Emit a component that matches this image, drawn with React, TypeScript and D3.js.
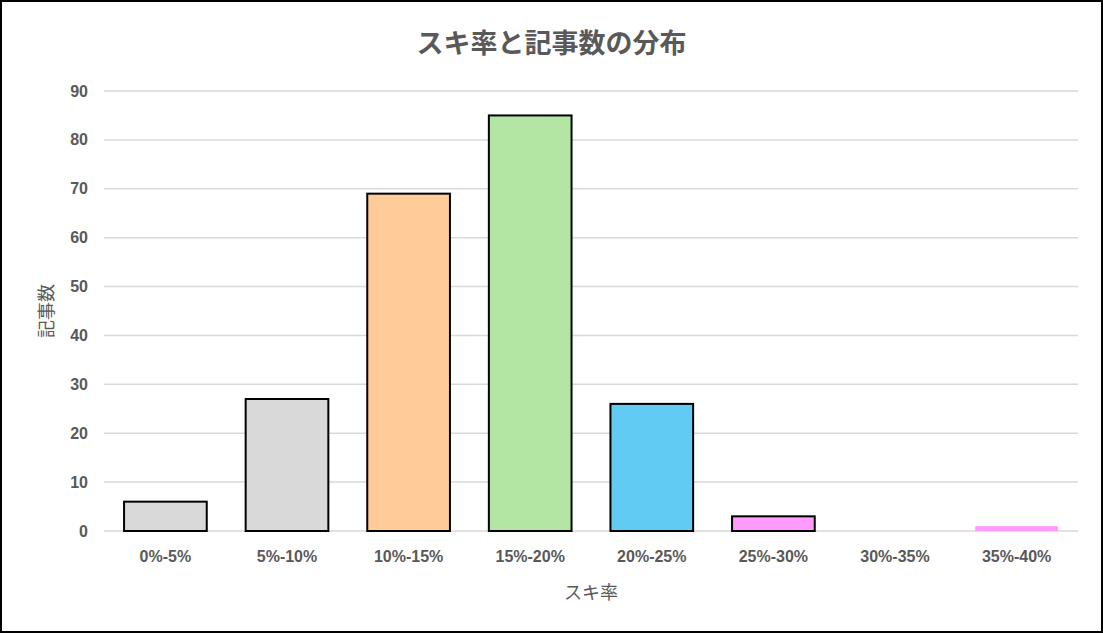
import React, { useRef, useEffect } from 'react';
import * as d3 from 'd3';

const categories = ['0%-5%', '5%-10%', '10%-15%', '15%-20%', '20%-25%', '25%-30%', '30%-35%', '35%-40%'];
const counts = [6, 27, 69, 85, 26, 3, 0, 1];
const barColors = ['#D9D9D9', '#D9D9D9', '#FFCC99', '#B3E6A2', '#61CBF3', '#FF9BFF', '#FF9BFF', '#FF9BFF'];
const outlined = [true, true, true, true, true, true, true, false];
const yTicks = [0, 10, 20, 30, 40, 50, 60, 70, 80, 90];

const title = 'スキ率と記事数の分布';
const xTitle = 'スキ率';
const yTitle = '記事数';

const App: React.FC = () => {
    const svgRef = useRef<SVGSVGElement>(null);
    const width = 1103;
    const height = 633;

    useEffect(() => {
        if (!svgRef.current) return;
        const svg = d3.select(svgRef.current);
        svg.selectAll('*').remove();

        const margin = { top: 91, right: 25, bottom: 102, left: 104 };
        const innerWidth = width - margin.left - margin.right;
        const innerHeight = height - margin.top - margin.bottom;

        svg.append('rect')
            .attr('x', 1).attr('y', 1)
            .attr('width', width - 2).attr('height', height - 2)
            .attr('fill', '#fff')
            .attr('stroke', '#000')
            .attr('stroke-width', 2);

        const g = svg.append('g').attr('transform', `translate(${margin.left},${margin.top})`);

        const xScale = d3.scaleBand<string>().domain(categories).range([0, innerWidth]).paddingInner(0.32).paddingOuter(0.165);
        const yScale = d3.scaleLinear().domain([0, 90]).range([innerHeight, 0]);

        // gridlines
        g.append('g')
            .selectAll('line')
            .data(yTicks)
            .join('line')
            .attr('x1', 0).attr('x2', innerWidth)
            .attr('y1', d => yScale(d)).attr('y2', d => yScale(d))
            .attr('stroke', '#D9D9D9')
            .attr('stroke-width', 1.5);

        // bars
        g.append('g')
            .selectAll('rect')
            .data(counts)
            .join('rect')
            .attr('x', (_, i) => xScale(categories[i])!)
            .attr('width', xScale.bandwidth())
            .attr('y', d => yScale(d))
            .attr('height', d => innerHeight - yScale(d))
            .attr('fill', (_, i) => barColors[i])
            .attr('stroke', (d, i) => (outlined[i] && d > 0 ? '#000' : 'none'))
            .attr('stroke-width', 2);

        // y tick labels
        g.append('g')
            .selectAll('text')
            .data(yTicks)
            .join('text')
            .attr('x', -16)
            .attr('y', d => yScale(d))
            .attr('dy', '0.35em')
            .attr('text-anchor', 'end')
            .attr('font-family', 'Liberation Sans, Arial, sans-serif')
            .attr('font-weight', 'bold')
            .attr('font-size', 16)
            .attr('fill', '#595959')
            .text(d => d);

        // x tick labels
        g.append('g')
            .selectAll('text')
            .data(categories)
            .join('text')
            .attr('x', d => xScale(d)! + xScale.bandwidth() / 2)
            .attr('y', innerHeight + 31)
            .attr('text-anchor', 'middle')
            .attr('font-family', 'Liberation Sans, Arial, sans-serif')
            .attr('font-weight', 'bold')
            .attr('font-size', 16)
            .attr('fill', '#595959')
            .text(d => d);

        // title
        svg.append('text')
            .attr('x', width / 2)
            .attr('y', 53)
            .attr('text-anchor', 'middle')
            .attr('font-family', 'Noto Sans CJK JP, sans-serif')
            .attr('font-weight', 'bold')
            .attr('font-size', 27)
            .attr('fill', '#595959')
            .text(title);

        // axis titles
        svg.append('text')
            .attr('x', margin.left + innerWidth / 2)
            .attr('y', 599)
            .attr('text-anchor', 'middle')
            .attr('font-family', 'Noto Sans CJK JP, sans-serif')
            .attr('font-size', 18)
            .attr('fill', '#595959')
            .text(xTitle);

        svg.append('text')
            .attr('transform', `translate(53,${margin.top + innerHeight / 2}) rotate(-90)`)
            .attr('text-anchor', 'middle')
            .attr('font-family', 'Noto Sans CJK JP, sans-serif')
            .attr('font-size', 18)
            .attr('fill', '#595959')
            .text(yTitle);
    }, []);

    return (
        <div style={{ position: 'fixed', left: 0, top: 0 }}>
            <svg ref={svgRef} width={width} height={height} style={{ display: 'block' }} />
        </div>
    );
};

export default App;
